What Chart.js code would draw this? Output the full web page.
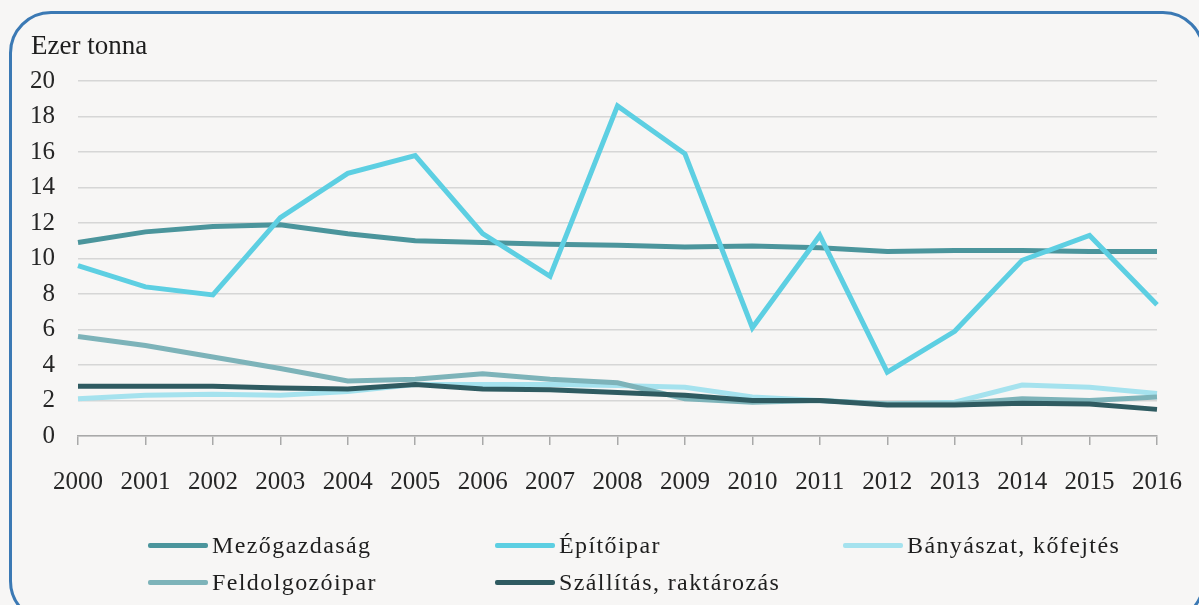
<!DOCTYPE html>
<html>
<head>
<meta charset="utf-8">
<script src="https://cdn.jsdelivr.net/npm/chart.js@4.4.0/dist/chart.umd.min.js"></script>
<style>
  html, body { margin: 0; padding: 0; background: #f7f6f5; }
  #wrap { position: relative; width: 1199px; height: 605px; overflow: hidden; }
  #frame { position: absolute; left: 9px; top: 11px; width: 1196px; height: 612px;
           border: 3px solid #3b79b4; border-radius: 42px; box-sizing: border-box; }
  #chart { position: absolute; left: 0; top: 0; }
  .leg { position: absolute; display: flex; align-items: center; height: 30px;
         font-family: "Liberation Serif", "DejaVu Serif", serif; font-size: 24px;
         color: #1e1e1e; letter-spacing: 1.4px; white-space: nowrap; }
  .leg span.ln { display: inline-block; width: 60px; height: 5px; border-radius: 2px; margin-right: 4px; }
</style>
</head>
<body>
<div id="wrap">
  <div id="frame"></div>
  <canvas id="chart" width="1199" height="605"></canvas>
  <div id="legend"></div>
</div>
<script>
  'use strict';

  // ---------------
  // - CHART DATA  -
  // ---------------
  var years = ['2000','2001','2002','2003','2004','2005','2006','2007','2008',
               '2009','2010','2011','2012','2013','2014','2015','2016'];

  var mezogazdasag  = [10.9, 11.5, 11.8, 11.9, 11.4, 11.0, 10.9, 10.8, 10.75, 10.65, 10.7, 10.6, 10.4, 10.45, 10.45, 10.4, 10.4];
  var epitoipar     = [9.6, 8.4, 7.95, 12.3, 14.8, 15.8, 11.4, 9.0, 18.6, 15.9, 6.1, 11.3, 3.6, 5.9, 9.9, 11.3, 7.4];
  var banyaszat     = [2.1, 2.3, 2.35, 2.3, 2.5, 2.9, 2.9, 2.9, 2.85, 2.75, 2.2, 2.0, 1.8, 1.9, 2.87, 2.75, 2.4];
  var feldolgozo    = [5.6, 5.1, 4.45, 3.8, 3.1, 3.2, 3.5, 3.2, 3.0, 2.1, 1.9, 2.0, 1.8, 1.8, 2.1, 2.0, 2.2];
  var szallitas     = [2.8, 2.8, 2.8, 2.7, 2.65, 2.9, 2.65, 2.6, 2.45, 2.3, 2.0, 2.0, 1.75, 1.75, 1.85, 1.8, 1.5];

  var yTicks = [0, 2, 4, 6, 8, 10, 12, 14, 16, 18, 20];

  var seriesNames  = ['Mezőgazdaság', 'Építőipar', 'Bányászat, kőfejtés', 'Feldolgozóipar', 'Szállítás, raktározás'];
  var seriesColors = ['#4b959c', '#5dcfe2', '#a5e2ee', '#7db3b9', '#2f5b61'];
  var seriesData   = [mezogazdasag, epitoipar, banyaszat, feldolgozo, szallitas];
  var drawOrder    = [1, 0, 4, 3, 2]; // lower = drawn on top

  var fontFamily = '"Liberation Serif", "DejaVu Serif", serif';

  var datasets = seriesNames.map(function (name, i) {
    return {
      label: name,
      data: seriesData[i],
      borderColor: seriesColors[i],
      backgroundColor: seriesColors[i],
      borderWidth: 5,
      pointRadius: 0,
      tension: 0,
      order: drawOrder[i]
    };
  });

  // title "Ezer tonna" in the top left corner
  var titlePlugin = {
    id: 'unitTitle',
    afterDraw: function (chart) {
      var ctx = chart.ctx;
      ctx.save();
      ctx.font = '27px ' + fontFamily;
      ctx.fillStyle = '#1e1e1e';
      ctx.textBaseline = 'alphabetic';
      ctx.fillText('Ezer tonna', 31, 54);
      ctx.restore();
    }
  };

  var ctx = document.getElementById('chart').getContext('2d');
  new Chart(ctx, {
    type: 'line',
    data: { labels: years, datasets: datasets },
    plugins: [titlePlugin],
    options: {
      responsive: false,
      animation: false,
      layout: { padding: { top: 81, right: 42, left: 0, bottom: 0 } },
      plugins: { legend: { display: false }, tooltip: { enabled: false } },
      scales: {
        x: {
          afterFit: function (s) { s.height = 169; s.paddingRight = 0; s.paddingLeft = 0; },
          grid: { drawOnChartArea: false, drawTicks: true, tickLength: 9, color: '#a9a9a9', lineWidth: 1.5 },
          border: { display: true, color: '#a9a9a9', width: 1.5 },
          ticks: { color: '#262626', font: { family: fontFamily, size: 25 }, padding: 22,
                   maxRotation: 0, autoSkip: false }
        },
        y: {
          min: 0, max: 20,
          afterFit: function (s) { s.width = 78; },
          afterBuildTicks: function (s) { s.ticks = yTicks.map(function (v) { return { value: v }; }); },
          grid: { drawTicks: false, color: '#d6d6d6', lineWidth: 1.5 },
          border: { display: false },
          ticks: { color: '#262626', font: { family: fontFamily, size: 25 }, padding: 23 }
        }
      }
    }
  });

  // HTML legend, 3 columns x 2 rows
  var legCols = [148, 495, 843];
  var legRows = [545, 582];
  var legend = document.getElementById('legend');
  seriesNames.forEach(function (name, i) {
    var el = document.createElement('div');
    el.className = 'leg';
    el.style.left = legCols[i % 3] + 'px';
    el.style.top = (legRows[Math.floor(i / 3)] - 15) + 'px';
    el.innerHTML = '<span class="ln" style="background:' + seriesColors[i] + '"></span>' + name;
    legend.appendChild(el);
  });
</script>
</body>
</html>
